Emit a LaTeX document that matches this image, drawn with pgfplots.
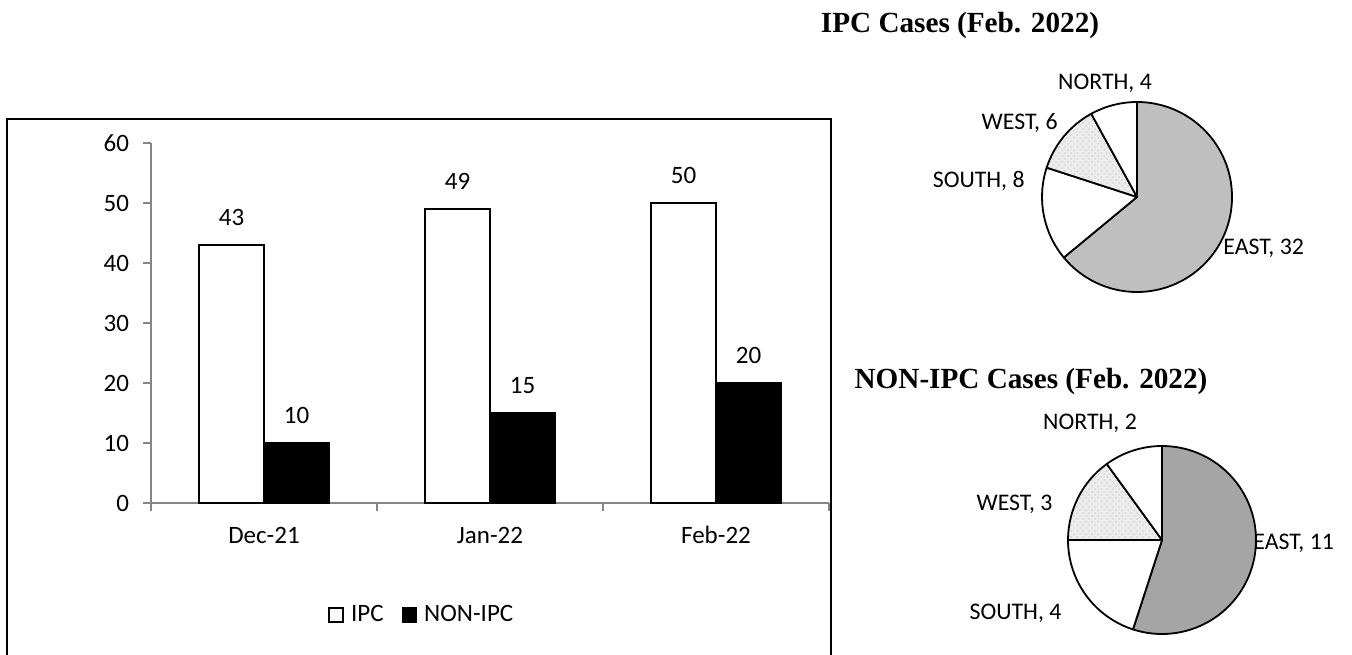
\documentclass[border=0pt]{standalone}
\usepackage{fontspec}
\setmainfont{Carlito}
\newfontfamily\titlefont{Liberation Serif}
\usepackage{pgfplots}
\pgfplotsset{compat=1.18}
\usetikzlibrary{patterns}
\definecolor{axgray}{HTML}{868686}
\definecolor{eastA}{HTML}{BFBFBF}
\definecolor{eastB}{HTML}{A5A5A5}
\definecolor{westfill}{HTML}{EDEDED}
\newcommand\lbl{\fontsize{11.9}{14}\selectfont}
\newcommand\blbl{\fontsize{12.5}{15}\selectfont}
% #1 cumulative before, #2 value, #3 total, #4 radius, #5 fill style
\newcommand\pieslice[5]{%
  \path[#5] (axis cs:0,0) -- (axis cs:{cos(90-(#1)/(#3)*360)},{sin(90-(#1)/(#3)*360)}) arc[start angle={90-(#1)/(#3)*360}, end angle={90-((#1)+(#2))/(#3)*360}, radius=#4] -- cycle;
  \draw[black, line width=0.9pt, line join=round] (axis cs:0,0) -- (axis cs:{cos(90-(#1)/(#3)*360)},{sin(90-(#1)/(#3)*360)}) arc[start angle={90-(#1)/(#3)*360}, end angle={90-((#1)+(#2))/(#3)*360}, radius=#4] -- cycle;
}
\begin{document}
\begin{tikzpicture}
\useasboundingbox (0,0) rectangle (676pt,327pt);
% chart area border (bottom edge lies below the page)
\draw[black, line width=0.9pt] (3.5pt,-2pt) rectangle (415.5pt,267.5pt);
\begin{axis}[
  at={(75.5pt,75.5pt)}, anchor=south west, scale only axis,
  width=339pt, height=180pt,
  ybar=0pt, bar width=32.5pt,
  xmin=-0.5, xmax=2.5, ymin=0, ymax=60,
  ytick={0,10,...,60},
  xtick={-0.5,0.5,1.5,2.5},
  x tick label as interval,
  xticklabels={Dec-21,Jan-22,Feb-22},
  axis lines*=left,
  axis line style={axgray, line width=0.8pt},
  tick style={axgray, line width=0.8pt},
  tick align=outside, major tick length=4pt,
  /pgf/number format/assume math mode=true,
  ticklabel style={font=\blbl, text=black},
  yticklabel style={xshift=-3.5pt},
  xticklabel style={text height=10pt, yshift=-2.5pt},
  nodes near coords,
  nodes near coords style={font=\blbl, text=black, yshift=6pt},
  legend style={at={(0.401,-0.311)}, anchor=center, draw=none, fill=none,
    legend columns=2, font=\blbl,
    /tikz/every even column/.append style={column sep=7pt}},
  legend image code/.code={\draw[#1, line width=0.6pt] (0pt,-3.5pt) rectangle (7pt,3.5pt); \path[draw=none, fill=none] (0pt,0pt) -- (9pt,0pt);},
]
\addplot[draw=black, fill=white, line width=0.8pt] coordinates {(0,43) (1,49) (2,50)};
\addplot[draw=black, fill=black, line width=0.8pt] coordinates {(0,10) (1,15) (2,20)};
\legend{IPC, NON-IPC}
\end{axis}
% pie 1: IPC Feb 2022
\begin{axis}[at={(521pt,181pt)}, anchor=south west, scale only axis,
  width=95pt, height=95pt, xmin=-1, xmax=1, ymin=-1, ymax=1, hide axis, clip=false]
\addplot[draw=none, forget plot] coordinates {(-1,-1) (1,1)};
\pieslice{0}{32}{50}{47.5pt}{fill=eastA}
\pieslice{32}{8}{50}{47.5pt}{fill=white}
\pieslice{40}{6}{50}{47.5pt}{fill=westfill, postaction={pattern=crosshatch dots, pattern color=gray!35}}
\pieslice{46}{4}{50}{47.5pt}{fill=white}
\end{axis}
% pie 2: NON-IPC Feb 2022
\begin{axis}[at={(534pt,10pt)}, anchor=south west, scale only axis,
  width=94pt, height=94pt, xmin=-1, xmax=1, ymin=-1, ymax=1, hide axis, clip=false]
\addplot[draw=none, forget plot] coordinates {(-1,-1) (1,1)};
\pieslice{0}{11}{20}{47pt}{fill=eastB}
\pieslice{11}{4}{20}{47pt}{fill=white}
\pieslice{15}{3}{20}{47pt}{fill=westfill, postaction={pattern=crosshatch dots, pattern color=gray!35}}
\pieslice{18}{2}{20}{47pt}{fill=white}
\end{axis}
% titles
\node[anchor=base, font=\titlefont\bfseries\fontsize{14.6}{17}\selectfont, inner sep=0pt] at (480pt,310.5pt) {IPC Cases (Feb. 2022)};
\node[anchor=base, font=\titlefont\bfseries\fontsize{14.6}{17}\selectfont, inner sep=0pt] at (515.5pt,133pt) {NON-IPC Cases (Feb. 2022)};
% pie labels
\begin{scope}[every node/.style={font=\lbl, inner sep=0pt}]
\node[anchor=base] at (552.5pt,282.25pt) {NORTH, 4};
\node[anchor=base east] at (529pt,262.25pt) {WEST, 6};
\node[anchor=base east] at (512.5pt,233.25pt) {SOUTH, 8};
\node[anchor=base west] at (611.5pt,199.75pt) {EAST, 32};
\node[anchor=base] at (545pt,112.25pt) {NORTH, 2};
\node[anchor=base] at (507.25pt,71.75pt) {WEST, 3};
\node[anchor=base west] at (626.5pt,52.25pt) {EAST, 11};
\node[anchor=base] at (507.75pt,17.25pt) {SOUTH, 4};
\end{scope}
\end{tikzpicture}
\end{document}
